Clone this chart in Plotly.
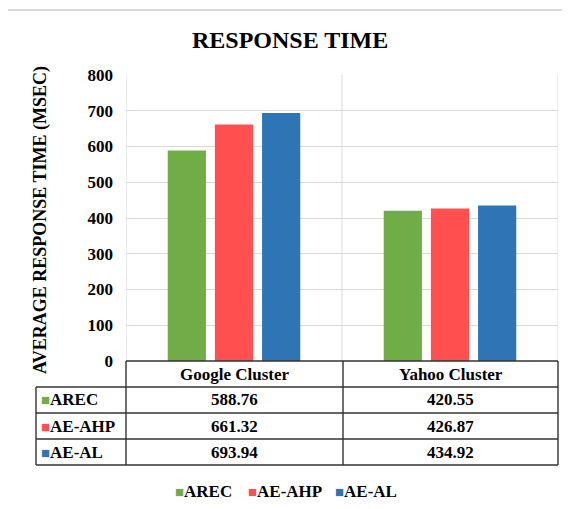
import plotly.graph_objects as go

categories = ["Google Cluster", "Yahoo Cluster"]
series_names = ["AREC", "AE-AHP", "AE-AL"]
arec = [588.76, 420.55]
ae_ahp = [661.32, 426.87]
ae_al = [693.94, 434.92]
y_ticks = [0, 100, 200, 300, 400, 500, 600, 700, 800]

colors = ["#70AD47", "#FF4F4F", "#2E75B6"]
series_values = [arec, ae_ahp, ae_al]

O = 8  # page body margin offset
W, H = 570 - O, 509 - O
L, R, T, B = 126, 558, 75, 361  # reference pixel coords of plot area
FONT = "Liberation Serif"


def px(x):
    return (x - L) / (R - L)


def py(y):
    return (B - y) / (B - T)


fig = go.Figure()
for name, vals, col in zip(series_names, series_values, colors):
    fig.add_trace(go.Bar(x=categories, y=vals, name=name, marker=dict(color=col, line=dict(width=0))))

shapes = []
grid = "#D9D9D9"
for xv in [-0.5, 0.5, 1.5]:
    shapes.append(dict(type="line", xref="x", yref="paper", x0=xv, x1=xv, y0=0, y1=1,
                       line=dict(color=grid, width=1), layer="below"))

shapes.append(dict(type="rect", xref="paper", yref="paper", x0=px(7), x1=px(600), y0=py(540), y1=py(10),
                   line=dict(color="#D9D9D9", width=2), layer="below"))

tc = "#333333"
row_y = [361, 387, 413, 439, 465]
col_x = [36, 126, 343, 558]


def seg(x0, y0, x1, y1):
    shapes.append(dict(type="line", xref="paper", yref="paper", x0=px(x0), x1=px(x1), y0=py(y0), y1=py(y1),
                       line=dict(color=tc, width=1.4)))


seg(126, 361, 558, 361)
for yy in row_y[1:]:
    seg(36, yy, 558, yy)
seg(36, row_y[1], 36, row_y[-1])
for xx in col_x[1:]:
    seg(xx, 361, xx, row_y[-1])

annotations = []
font = dict(family=FONT, size=17, color="#000000")


def ann(text, x, y, xanchor="center", **kw):
    annotations.append(dict(text=text, xref="paper", yref="paper", x=px(x), y=py(y), xanchor=xanchor,
                            yanchor="middle", showarrow=False, **kw))


ann("<b>RESPONSE TIME</b>", 290, 40, font=dict(family=FONT, size=24, color="#000000"))
ann("<b>AVERAGE RESPONSE TIME (MSEC)</b>", 40, 220, textangle=-90,
    font=dict(family=FONT, size=18, color="#000000"))
for i, cat in enumerate(categories):
    cx = (col_x[i + 1] + col_x[i + 2]) / 2
    ann(f"<b>{cat}</b>", cx, (row_y[0] + row_y[1]) / 2, font=font)
for r, (name, vals, col) in enumerate(zip(series_names, series_values, colors)):
    yc = (row_y[r + 1] + row_y[r + 2]) / 2
    ann(f"<span style='color:{col};font-size:15px'>■</span><b>{name}</b>", 39, yc, xanchor="left", font=font)
    for i, v in enumerate(vals):
        cx = (col_x[i + 1] + col_x[i + 2]) / 2
        ann(f"<b>{v:.2f}</b>", cx, yc, font=font)
leg_x = [173, 246, 333]
for name, col, lx in zip(series_names, colors, leg_x):
    ann(f"<span style='color:{col};font-size:15px'>■</span><b>{name}</b>", lx, 491, xanchor="left", font=font)

fig.update_layout(
    width=W, height=H,
    margin=dict(l=L - O, r=W - (R - O), t=T - O, b=H - (B - O)),
    paper_bgcolor="white", plot_bgcolor="white",
    barmode="group", bargap=0.345, bargroupgap=0.19,
    showlegend=False,
    shapes=shapes, annotations=annotations,
    xaxis=dict(showticklabels=False, showgrid=False, zeroline=False, showline=False, ticks="",
               range=[-0.5, 1.5]),
    yaxis=dict(range=[0, 800], tickvals=y_ticks, ticktext=[f"<b>{t}</b>" for t in y_ticks],
               showgrid=True, gridcolor=grid, gridwidth=1, zeroline=False, showline=False,
               ticks="", ticklabelstandoff=12, tickfont=dict(family=FONT, size=17, color="#000000")),
)

fig.write_html("out.html")
